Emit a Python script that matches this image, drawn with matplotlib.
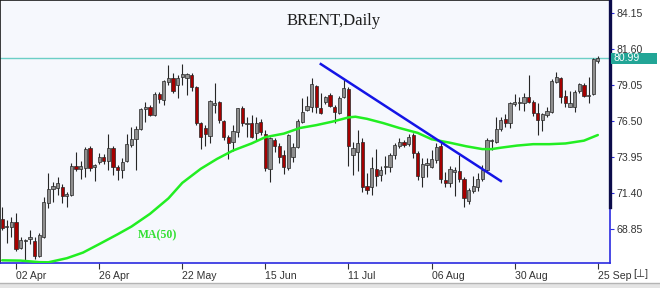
import matplotlib
matplotlib.use("Agg")
import matplotlib.pyplot as plt
import matplotlib.transforms as mtransforms
from matplotlib.patches import Rectangle
from matplotlib.lines import Line2D

# ---------------- data ----------------
opens = [69.54, 68.94, 68.94, 69.35, 67.45, 67.95, 68.12, 67.97, 66.91, 68.23,
         70.70, 71.64, 71.71, 71.83, 71.17, 71.22, 73.30, 73.11, 73.18, 74.60,
         73.20, 73.56, 73.91, 73.68, 74.60, 73.25, 73.02, 73.68, 74.79, 75.22,
         75.93, 77.32, 77.51, 76.92, 78.41, 77.99, 79.24, 79.57, 79.05, 79.64,
         79.57, 79.76, 78.93, 76.33, 75.97, 75.45, 77.63, 77.82, 76.50, 75.33,
         75.03, 75.74, 77.39, 76.28, 76.37, 75.67, 76.45, 75.57, 73.06, 75.15,
         74.72, 74.08, 73.13, 73.96, 74.62, 76.45, 77.27, 77.51, 78.98, 77.39,
         77.87, 78.34, 77.51, 77.04, 78.17, 78.77, 74.08, 74.32, 75.03, 71.88,
         71.83, 73.09, 72.66, 73.23, 73.20, 74.08, 74.72, 75.03, 74.86, 75.50,
         74.20, 72.50, 73.37, 73.25, 73.72, 74.72, 72.31, 72.07, 72.90, 72.97,
         72.35, 70.84, 71.55, 71.83, 72.35, 73.02, 75.05, 75.03, 75.90, 76.61,
         76.37, 77.70, 77.77, 77.75, 78.22, 77.87, 77.09, 76.57, 76.92, 77.16,
         79.29, 79.57, 78.27, 77.51, 77.51, 78.65, 79.05, 78.29, 78.41, 80.78]
highs = [70.41, 69.46, 69.70, 69.94, 68.28, 68.12, 68.75, 68.28, 68.57, 71.12,
         72.78, 72.19, 72.54, 72.02, 71.48, 73.54, 74.27, 73.68, 74.62, 74.72,
         73.44, 74.20, 74.15, 75.55, 74.72, 73.37, 73.84, 75.55, 76.05, 76.14,
         77.39, 77.87, 77.63, 78.58, 78.58, 79.41, 80.47, 79.88, 79.76, 80.54,
         79.93, 79.88, 78.98, 76.45, 76.21, 77.99, 79.22, 77.94, 76.57, 75.50,
         76.21, 77.44, 77.56, 76.75, 76.92, 76.75, 76.61, 75.86, 75.33, 75.27,
         74.91, 74.43, 75.57, 74.91, 76.61, 78.10, 78.27, 79.57, 79.05, 78.46,
         78.27, 78.51, 77.63, 78.27, 79.45, 78.88, 75.03, 75.86, 75.27, 72.83,
         73.96, 74.48, 73.30, 74.01, 74.20, 74.96, 75.27, 75.15, 75.55, 75.62,
         74.36, 73.84, 73.84, 74.43, 74.96, 74.91, 72.90, 73.30, 73.20, 74.08,
         72.50, 71.71, 72.59, 72.78, 73.37, 75.27, 75.24, 76.75, 76.75, 76.99,
         77.87, 78.41, 78.22, 78.51, 79.76, 77.99, 77.75, 77.09, 77.51, 79.45,
         80.00, 79.64, 78.70, 78.65, 78.70, 79.22, 79.17, 79.64, 80.94, 81.11]
lows = [68.75, 67.85, 68.28, 67.29, 67.38, 66.58, 67.76, 66.67, 66.86, 68.16,
        70.29, 70.77, 71.24, 70.65, 70.36, 71.17, 72.97, 72.35, 72.54, 72.97,
        72.24, 73.44, 73.44, 73.00, 72.66, 72.31, 72.42, 73.61, 74.67, 73.02,
        75.86, 76.45, 76.85, 76.85, 77.80, 77.63, 79.05, 78.46, 78.10, 79.05,
        78.34, 78.65, 76.21, 74.48, 74.72, 74.91, 77.04, 76.33, 75.15, 73.77,
        74.39, 75.33, 76.14, 75.38, 75.27, 75.15, 75.50, 72.97, 72.19, 74.32,
        73.54, 72.73, 73.02, 73.61, 74.55, 76.33, 77.23, 77.16, 77.09, 77.00,
        77.70, 77.51, 76.37, 77.00, 78.10, 73.30, 72.66, 72.97, 71.48, 71.31,
        71.24, 71.88, 72.26, 72.73, 72.90, 73.77, 74.55, 74.67, 74.72, 73.84,
        72.31, 71.83, 72.50, 73.13, 73.54, 72.12, 71.83, 71.83, 71.17, 72.19,
        70.41, 70.60, 71.41, 71.55, 72.26, 72.97, 74.43, 74.96, 75.81, 76.05,
        75.97, 77.56, 77.27, 77.23, 77.75, 76.85, 75.50, 75.81, 76.75, 77.04,
        79.17, 77.75, 77.51, 77.46, 77.16, 78.51, 78.22, 77.80, 78.34, 80.64]
closes = [68.87, 68.99, 69.34, 67.38, 68.04, 68.02, 68.28, 66.91, 68.40, 70.72,
          71.64, 71.88, 72.12, 71.17, 71.29, 73.30, 73.06, 73.30, 74.48, 73.13,
          73.37, 73.91, 73.68, 74.60, 73.25, 73.02, 73.61, 74.86, 75.22, 75.90,
          77.32, 77.46, 76.92, 78.41, 78.03, 79.36, 79.57, 78.65, 79.52, 79.81,
          79.81, 78.93, 76.33, 75.33, 75.55, 77.91, 77.75, 76.57, 75.33, 74.91,
          75.81, 77.39, 76.33, 76.37, 75.33, 76.37, 75.74, 73.13, 75.27, 74.72,
          73.91, 73.20, 75.50, 74.67, 76.52, 77.16, 77.56, 79.10, 77.46, 77.09,
          78.17, 77.56, 77.16, 78.10, 78.81, 74.72, 74.55, 74.96, 71.83, 71.60,
          73.13, 72.59, 73.02, 73.27, 74.08, 74.79, 75.03, 74.79, 75.38, 74.20,
          72.59, 73.44, 73.49, 73.77, 74.62, 72.35, 72.07, 73.06, 73.02, 72.35,
          71.00, 71.60, 71.88, 72.35, 73.02, 75.15, 75.15, 75.90, 76.57, 76.33,
          77.75, 77.87, 77.82, 78.17, 77.87, 77.04, 76.57, 76.99, 77.23, 79.36,
          79.60, 78.22, 77.80, 77.80, 78.58, 79.12, 78.27, 78.34, 80.87, 80.99]

date_labels = ['02 Apr', '26 Apr', '22 May', '15 Jun', '11 Jul', '06 Aug', '30 Aug', '25 Sep']
first_label_bar = 3
bars_per_label = 18

# MA(50) (bar index, value)
ma_idx = [0, 4, 8, 10, 14, 17.5, 21, 25, 28, 32, 36, 39, 43, 46.5, 50, 54, 57,
          61, 64.5, 68, 71.5, 75, 76.5, 79, 82.5, 86, 90, 93, 97, 100.5, 104,
          106, 108, 111.5, 115, 118.5, 122, 126, 127.5, 129]
ma_val = [66.6, 66.58, 66.47, 66.46, 66.75, 67.15, 67.75, 68.45, 69.0, 69.9,
          71.0, 72.1, 73.1, 73.8, 74.4, 74.9, 75.35, 75.6, 76.0, 76.2, 76.45,
          76.75, 76.8, 76.65, 76.35, 76.0, 75.65, 75.2, 74.95, 74.7, 74.5, 74.5,
          74.6, 74.75, 74.85, 74.85, 74.9, 75.1, 75.3, 75.5]

trend_idx = [69, 108]
trend_val = [80.54, 72.23]

last_price = 80.99
yticks = [68.85, 71.40, 73.95, 76.50, 79.05, 81.60, 84.15]

# ---------------- figure ----------------
W, H = 660, 288
fig = plt.figure(figsize=(W / 100, H / 100), dpi=100)
fig.patch.set_facecolor('white')
ax = fig.add_axes([0, 25 / H, 610 / W, 263 / H])
ax.set_facecolor('#f6f8fd')
ax.set_xlim(-0.48, 131.64)
ax.set_ylim(66.41, 85.09)

n = len(closes)
xs = list(range(n))
up_col, dn_col, edge = '#8e8e8e', '#a50000', '#262626'
for i in xs:
    o, h, l, c = opens[i], highs[i], lows[i], closes[i]
    ax.vlines(i, l, h, color=edge, lw=0.8, zorder=2)
    bot = min(o, c)
    ht = max(abs(c - o), 0.07)
    ax.bar(i, ht, bottom=bot, width=0.7, color=up_col if c >= o else dn_col,
           edgecolor=edge, linewidth=0.5, zorder=3)

ax.plot(ma_idx, ma_val, color='#22ee22', lw=1.8, zorder=4, solid_capstyle='round',
        solid_joinstyle='round')
ax.plot(trend_idx, trend_val, color='#1414e6', lw=1.8, zorder=5)
ax.axhline(last_price, color='#6ccfc6', lw=1.0, zorder=1)

# axes styling
for s in ['left', 'top']:
    ax.spines[s].set_color('#1a1a1a')
    ax.spines[s].set_linewidth(1.2)
for s in ['right', 'bottom']:
    ax.spines[s].set_color('#2a2ae0')
    ax.spines[s].set_linewidth(1.2)

ax.yaxis.tick_right()
ax.set_yticks(yticks)
ax.set_yticklabels([f'{v:.2f}' for v in yticks])
ax.tick_params(axis='y', direction='out', length=3, width=0.8, color='#2a2ae0',
               pad=2, labelsize=7.6, labelcolor='#333333')
tick_pos = [first_label_bar + bars_per_label * k for k in range(len(date_labels))]
ax.set_xticks(tick_pos)
ax.set_xticklabels(date_labels)
ax.tick_params(axis='x', direction='out', length=4, width=0.8, color='#333333',
               pad=1.5, labelsize=7.6, labelcolor='#333333')
for lab in ax.get_xticklabels():
    lab.set_ha('left')
    lab.set_family('Liberation Sans')
for lab in ax.get_yticklabels():
    lab.set_family('Liberation Sans')

# dark scroll marker on the right edge
blend = mtransforms.blended_transform_factory(ax.transAxes, ax.transData)
ax.add_line(Line2D([1.0, 1.0], [70.39, 85.09], transform=blend, color='#0b0b4a',
                   lw=2.4, clip_on=False, zorder=6))

# last price label
fblend = mtransforms.blended_transform_factory(fig.transFigure, ax.transData)
fig.add_artist(Rectangle((611 / W, last_price - 0.45), 46 / W, 0.80,
                         transform=fblend, facecolor='#22a596', edgecolor='none', zorder=7))
fig.text(614 / W, last_price - 0.05, f'{last_price:.2f}', transform=fblend,
         color='white', fontsize=7.6, family='Liberation Sans', va='center', ha='left',
         zorder=8)

# texts
fig.text(334 / W, 1 - 21 / H, 'BRENT,Daily', family='Liberation Serif', fontsize=12,
         ha='center', va='center', color='#1e1e1e')
fig.text(138 / W, 1 - 235 / H, 'MA(50)', family='Liberation Serif', fontsize=8.5,
         fontweight='bold', ha='left', va='center', color='#33e033')
fig.text(633 / W, 1 - 274 / H, '[⊥]', family=['Liberation Sans', 'DejaVu Sans'],
         fontsize=7.6, ha='left', va='center', color='#333333')

# bottom scrollbar strip
fig.add_artist(Rectangle((0, 0), 1, 5 / H, transform=fig.transFigure,
                         facecolor='#e4e4e4', edgecolor='none'))
fig.add_artist(Line2D([0, 1], [5 / H, 5 / H], transform=fig.transFigure,
                      color='#b4b4b4', lw=1.0))

fig.savefig('out.png', dpi=100, facecolor='white')
